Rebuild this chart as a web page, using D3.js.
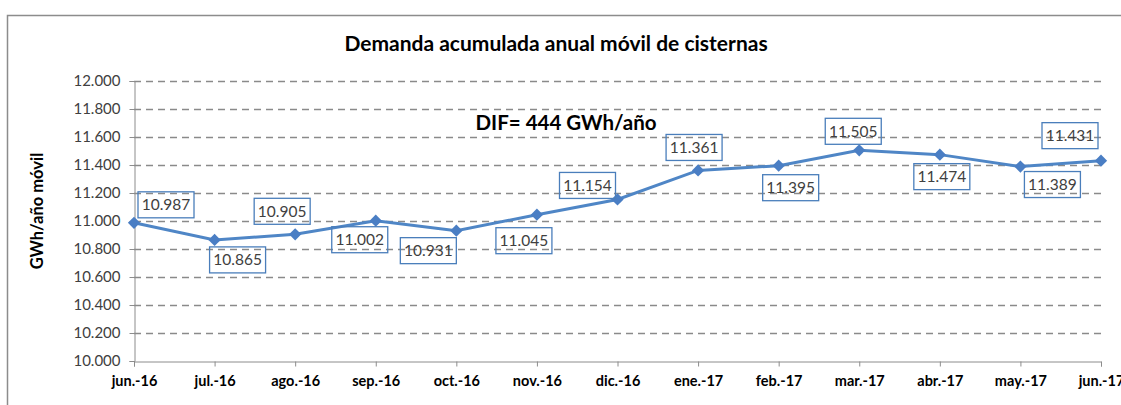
<!DOCTYPE html>
<html>
<head>
<meta charset="utf-8">
<script src="https://cdn.jsdelivr.net/npm/d3@7"></script>
<style>
  body { margin: 0; background: #fff; }
  svg { display: block; font-family: Lato, "Liberation Sans", sans-serif; }
</style>
</head>
<body>
<div id="chart"></div>
<script>
// chart data
var months = ["jun.-16", "jul.-16", "ago.-16", "sep.-16", "oct.-16", "nov.-16", "dic.-16",
              "ene.-17", "feb.-17", "mar.-17", "abr.-17", "may.-17", "jun.-17"];
var demand = [10987, 10865, 10905, 11002, 10931, 11045, 11154, 11361, 11395, 11505, 11474, 11389, 11431];
var yTicks = [10000, 10200, 10400, 10600, 10800, 11000, 11200, 11400, 11600, 11800, 12000];
var title = "Demanda acumulada anual móvil de cisternas";
var yTitle = "GWh/año móvil";
var note = "DIF= 444 GWh/año";

var w = 1121;
var h = 405;
var plotLeft = 134, plotRight = 1101, plotTop = 81, plotBottom = 361;

var svg = d3.select("#chart")
    .append("svg")
    .attr("width", w)
    .attr("height", h);

// outer frame (runs off the picture on the right and bottom)
svg.append("rect")
    .attr("x", 7.5).attr("y", 15.5)
    .attr("width", 1140).attr("height", 420)
    .attr("fill", "none")
    .attr("stroke", "#8c8c8c")
    .attr("stroke-width", 1.5);

var xScale = d3.scalePoint()
    .domain(months)
    .range([plotLeft, plotRight]);

var yScale = d3.scaleLinear()
    .domain([10000, 12000])
    .range([plotBottom, plotTop]);

// format numbers like 10.987
var fmt = function (v) {
    return d3.format(",")(v).replace(",", ".");
};

// dashed gridlines
svg.selectAll("line.grid")
    .data(yTicks.filter(function (d) { return d > 10000; }))
    .enter()
    .append("line")
    .attr("class", "grid")
    .attr("x1", plotLeft).attr("x2", plotRight)
    .attr("y1", function (d) { return yScale(d) + 0.5; })
    .attr("y2", function (d) { return yScale(d) + 0.5; })
    .attr("stroke", "#8a8a8a")
    .attr("stroke-width", 1.3)
    .attr("stroke-dasharray", "7,5");

// Y axis
var yAxis = d3.axisLeft(yScale)
    .tickValues(yTicks)
    .tickSize(5)
    .tickPadding(9)
    .tickFormat(fmt);

var gy = svg.append("g")
    .attr("transform", "translate(" + (plotLeft + 0.5) + ",0)")
    .call(yAxis);
gy.select(".domain").attr("stroke", "#8c8c8c");
gy.selectAll(".tick line").attr("stroke", "#8c8c8c");
gy.selectAll(".tick text")
    .attr("font-size", "15px")
    .attr("fill", "#404040")
    .attr("font-family", "Lato, sans-serif");

// X axis
var xAxis = d3.axisBottom(xScale)
    .tickSize(5)
    .tickPadding(9);

var gx = svg.append("g")
    .attr("transform", "translate(0," + (plotBottom + 0.5) + ")")
    .call(xAxis);
gx.select(".domain").attr("stroke", "#8c8c8c");
gx.selectAll(".tick line").attr("stroke", "#8c8c8c");
gx.selectAll(".tick text")
    .attr("font-size", "14.5px")
    .attr("font-weight", "bold")
    .attr("fill", "#000")
    .attr("font-family", "Lato, sans-serif");

// line
var line = d3.line()
    .x(function (d, i) { return xScale(months[i]); })
    .y(function (d) { return yScale(d); });

svg.append("path")
    .datum(demand)
    .attr("d", line)
    .attr("fill", "none")
    .attr("stroke", "#4f86c6")
    .attr("stroke-width", 3);

// diamond markers
svg.selectAll("path.marker")
    .data(demand)
    .enter()
    .append("path")
    .attr("class", "marker")
    .attr("d", d3.symbol().type(d3.symbolSquare).size(75))
    .attr("transform", function (d, i) {
        return "translate(" + xScale(months[i]) + "," + yScale(d) + ") rotate(45)";
    })
    .attr("fill", "#4a7ec4");

// data labels, box centre offset from the point
var labelOffsets = [[32, -18], [23, 20], [-13, -23], [-16, 19], [-28, 20], [-13, 26], [-30, -14],
                    [-4, -23], [12, 22], [-6, -19], [2, 22], [32, 18], [-31, -25]];

var labels = svg.selectAll("g.label")
    .data(demand)
    .enter()
    .append("g")
    .attr("class", "label")
    .attr("transform", function (d, i) {
        return "translate(" + (xScale(months[i]) + labelOffsets[i][0]) + "," +
            (yScale(d) + labelOffsets[i][1]) + ")";
    });

// boxes are see-through, the gridlines show behind the numbers
labels.append("rect")
    .attr("x", -28).attr("y", -13)
    .attr("width", 56).attr("height", 26)
    .attr("fill", "none")
    .attr("stroke", "#4a7ebb")
    .attr("stroke-width", 1.3);

labels.append("text")
    .text(function (d) { return fmt(d); })
    .attr("text-anchor", "middle")
    .attr("dy", "0.36em")
    .attr("font-size", "15.5px")
    .attr("fill", "#404040");

// titles
svg.append("text")
    .text(title)
    .attr("x", 556).attr("y", 51)
    .attr("text-anchor", "middle")
    .attr("font-size", "21px")
    .attr("font-weight", "bold")
    .attr("fill", "#000");

svg.append("text")
    .text(note)
    .attr("x", 566).attr("y", 130)
    .attr("text-anchor", "middle")
    .attr("font-size", "20.5px")
    .attr("font-weight", "bold")
    .attr("fill", "#000");

svg.append("text")
    .text(yTitle)
    .attr("transform", "translate(43,211) rotate(-90)")
    .attr("text-anchor", "middle")
    .attr("font-size", "16.5px")
    .attr("font-weight", "bold")
    .attr("fill", "#000");
</script>
</body>
</html>
